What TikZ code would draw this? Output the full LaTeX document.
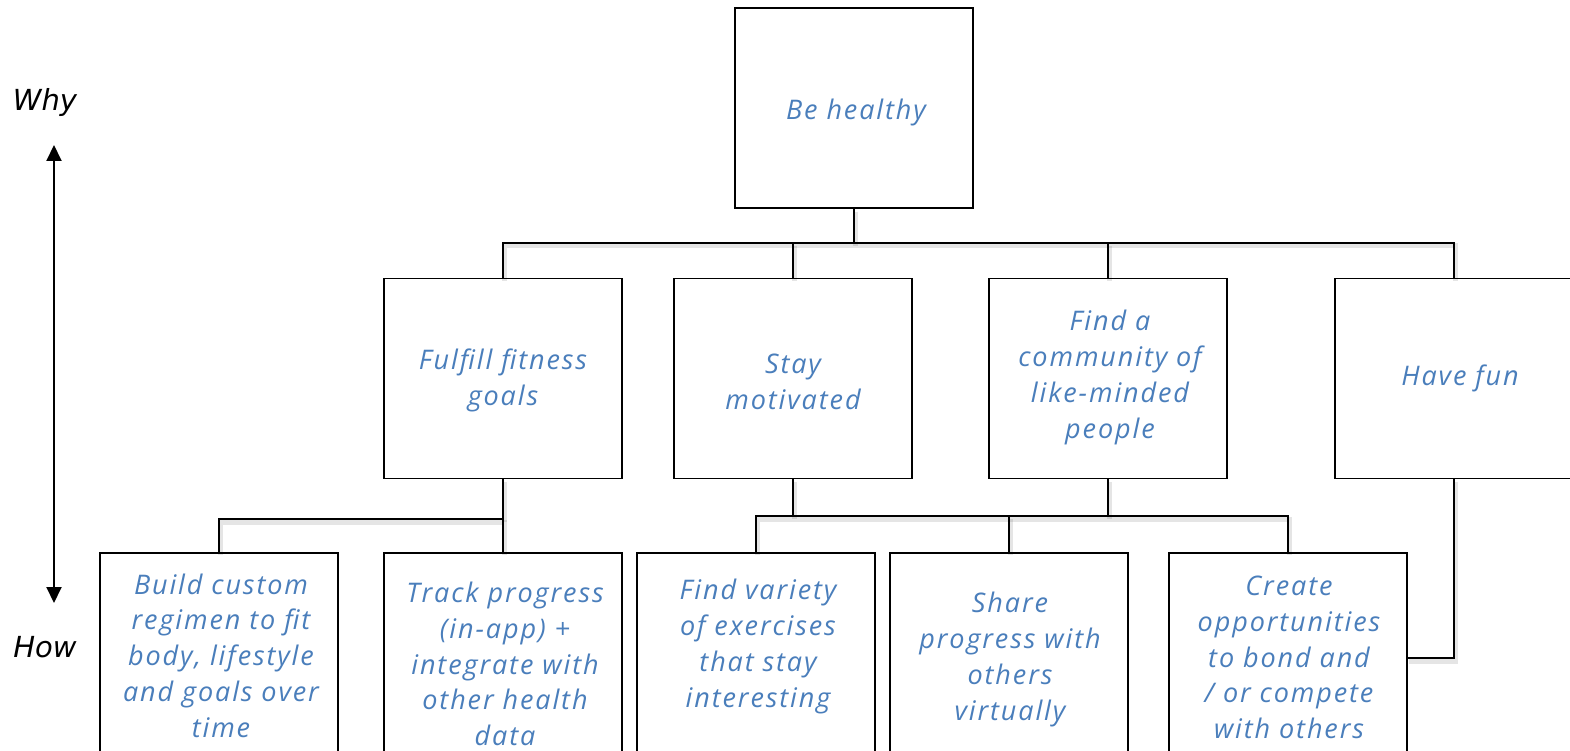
\documentclass[tikz,border=0pt]{standalone}
\usepackage{fontspec}
\newfontfamily\handfont{Open Sans}[LetterSpace=7]
\newfontfamily\labfont{DejaVu Sans}
\usetikzlibrary{arrows.meta,calc}
\definecolor{handblue}{RGB}{74,126,187}
\begin{document}
\begin{tikzpicture}[x=1pt,y=-1pt,
  box/.style={draw=black, line width=1.5pt, minimum width=238pt, minimum height=200pt,
    inner sep=0pt},
  txt/.style={align=center, text=handblue, inner sep=0pt,
    font=\handfont\itshape\fontsize{27}{35.7}\selectfont},
  conn/.style={line width=2.2pt, black,
    preaction={draw=black, opacity=0.10, line width=5pt,
      transform canvas={shift={(1.5pt,-3pt)}}}},
  lab/.style={font=\labfont\itshape\fontsize{29}{32}\selectfont, inner sep=0pt},
  dbl/.style={line width=2pt, {Triangle[width=15pt,length=16pt]}-{Triangle[width=15pt,length=16pt]}}]
\useasboundingbox (0,0) rectangle (1570,751);

% left axis
\node[lab] (why) at (45,103) {Why};
\node[lab] (how) at (45,647) {How};
\coordinate (atop) at (54,145);
\coordinate (abot) at (54,603);
\draw[dbl] (abot) -- (atop);

% boxes
\node[box] (bh) at (854,108) {};
\node[box] (fit) at (503,378.5) {};
\node[box] (mot) at (793,378.5) {};
\node[box] (com) at (1108,378.5) {};
\node[box] (fun) at (1454,378.5) {};
\node[box] (build) at (219,653) {};
\node[box] (track) at (503,653) {};
\node[box] (var) at (756,653) {};
\node[box] (share) at (1009,653) {};
\node[box] (create) at (1288,653) {};

% texts
\node[txt] (bhtxt) at ($(bh)+(2,4)$) {Be healthy};
\node[txt] (fittxt) at ($(fit)+(0,2)$) {Fulfill fitness\\goals};
\node[txt] (mottxt) at ($(mot)+(0,3.5)$) {Stay\\motivated};
\node[txt] (comtxt) at ($(com)+(2,-1)$) {Find a\\community of\\like-minded\\people};
\node[txt] (funtxt) at ($(fun)+(6,0)$) {Have fun};
\node[txt] (buildtxt) at ($(build)+(2,2.5)$) {Build custom\\regimen to fit\\body, lifestyle\\and goals over\\time};
\node[txt] (tracktxt) at ($(track)+(2,11)$) {Track progress\\(in-app) +\\integrate with\\other health\\data};
\node[txt] (vartxt) at ($(var)+(2,-6.5)$) {Find variety\\of exercises\\that stay\\interesting};
\node[txt] (sharetxt) at ($(share)+(1,6.5)$) {Share\\progress with\\others\\virtually};
\node[txt] (createtxt) at ($(create)+(1,4.5)$) {Create\\opportunities\\to bond and\\/ or compete\\with others};

% connectors
\coordinate (b0) at (854,243);
\draw[conn] (bh.south) -- (b0);
\draw[conn] (fit.north) |- (b0) -| (fun.north);
\draw[conn] (mot.north) -- (mot.north |- b0);
\draw[conn] (com.north) -- (com.north |- b0);

\coordinate (b1) at (503,519);
\draw[conn] (fit.south) -- (b1);
\draw[conn] (build.north) |- (b1) -- (track.north);

\coordinate (b2) at (793,516);
\coordinate (b3) at (1108,516);
\draw[conn] (mot.south) -- (b2);
\draw[conn] (com.south) -- (b3);
\draw[conn] (var.north) |- (b2) -- (b3) -| (create.north);
\draw[conn] (share.north) -- (share.north |- b2);

\draw[conn] (fun.south) |- ([yshift=-5pt]create.east);
\end{tikzpicture}
\end{document}
